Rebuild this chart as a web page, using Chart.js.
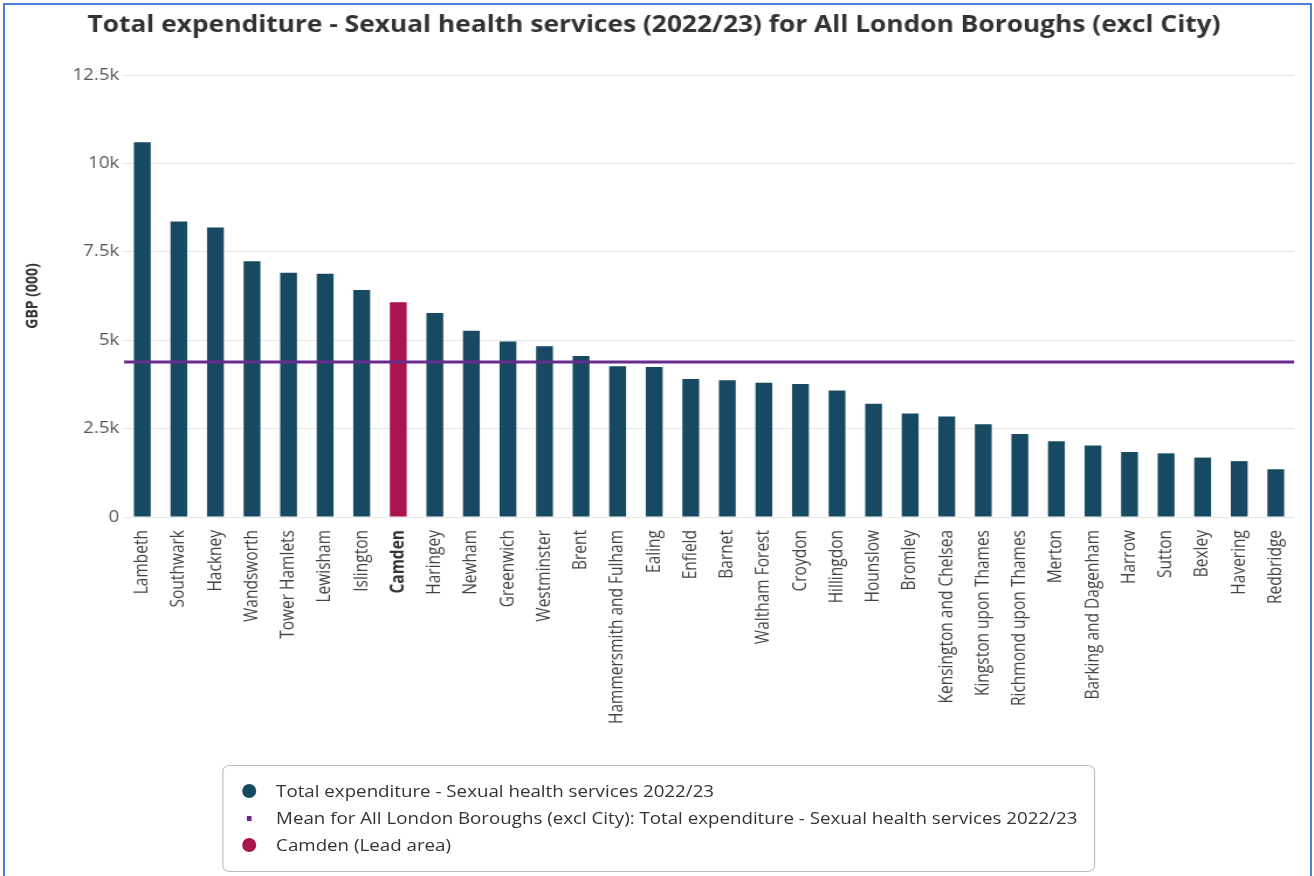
<!DOCTYPE html>
<html>
<head>
<meta charset="utf-8">
<title>Total expenditure - Sexual health services (2022/23)</title>
<script src="https://cdn.jsdelivr.net/npm/chart.js@4/dist/chart.umd.min.js"></script>
<style>
    body { margin: 0; background: #fff; font-family: 'Open Sans', sans-serif; overflow: hidden; }
    .frame { position: absolute; left: 3px; top: 3px; width: 1305px; height: 900px; border: 2px solid #4c7fd8; border-bottom: none; }
    /* the reference is a screenshot stretched sideways, so the drawing is widened the same way */
    .stretch { position: absolute; left: 0; top: 0; width: 1123px; height: 876px; transform: scaleX(1.17); transform-origin: 0 0; }
    #expenditure-chart { position: absolute; left: 4px; top: 5px; }
    #legend { position: absolute; left: 190px; top: 765px; width: 744px; height: 105px; border: 1px solid #bdbdbd; border-radius: 6px; background: #fff; }
    #legend ul { list-style: none; margin: 0; padding: 13px 0 0 0; }
    #legend li { position: relative; height: 27px; line-height: 24px; padding-left: 45px; font-size: 16px; color: #333; white-space: nowrap; }
    #legend .mark { position: absolute; top: 5px; left: 16px; width: 12px; height: 14px; border-radius: 50%; }
    #legend .mark.sq { top: 10px; left: 20px; width: 4px; height: 5px; border-radius: 0; }
</style>
</head>
<body>
<div class="frame"></div>
<div class="stretch">
    <canvas id="expenditure-chart" width="1110" height="755"></canvas>
    <div id="legend"><ul></ul></div>
</div>

<script>
// values, GBP (000)
const boroughs = [
    'Lambeth', 'Southwark', 'Hackney', 'Wandsworth', 'Tower Hamlets', 'Lewisham', 'Islington', 'Camden',
    'Haringey', 'Newham', 'Greenwich', 'Westminster', 'Brent', 'Hammersmith and Fulham', 'Ealing', 'Enfield',
    'Barnet', 'Waltham Forest', 'Croydon', 'Hillingdon', 'Hounslow', 'Bromley', 'Kensington and Chelsea',
    'Kingston upon Thames', 'Richmond upon Thames', 'Merton', 'Barking and Dagenham', 'Harrow', 'Sutton',
    'Bexley', 'Havering', 'Redbridge'
];
const expenditure = [
    10600, 8360, 8190, 7230, 6910, 6880, 6420, 6070,
    5770, 5270, 4960, 4830, 4550, 4260, 4240, 3900,
    3870, 3800, 3760, 3580, 3200, 2930, 2840,
    2620, 2350, 2140, 2020, 1840, 1800,
    1680, 1580, 1350
];
const londonMean = 4380;
const yTicks = [0, 2500, 5000, 7500, 10000, 12500];
const leadArea = 'Camden';

const seriesLabel = 'Total expenditure - Sexual health services 2022/23';
const meanLabel = 'Mean for All London Boroughs (excl City): Total expenditure - Sexual health services 2022/23';
const leadLabel = 'Camden (Lead area)';

const barColour = '#174a62';
const leadColour = '#a9144f';
const meanColour = '#6a2b8e';

Chart.defaults.font.family = "'Open Sans', sans-serif";
Chart.defaults.color = '#444';

new Chart(document.getElementById('expenditure-chart'), {
    type: 'bar',
    data: {
        labels: boroughs,
        datasets: [
            {
                type: 'line',
                label: meanLabel,
                data: [{ x: 0, y: londonMean }, { x: 1, y: londonMean }],
                xAxisID: 'xMean',
                borderColor: meanColour,
                borderWidth: 3,
                pointRadius: 0,
                order: 0
            },
            {
                label: seriesLabel,
                data: expenditure,
                backgroundColor: boroughs.map(b => b === leadArea ? leadColour : barColour),
                grouped: false,
                barPercentage: 0.46,
                categoryPercentage: 1,
                order: 1
            }
        ]
    },
    options: {
        responsive: false,
        animation: false,
        layout: { padding: 0 },
        plugins: {
            legend: { display: false },
            tooltip: { enabled: false },
            title: {
                display: true,
                text: 'Total expenditure - Sexual health services (2022/23) for All London Boroughs (excl City)',
                color: '#333',
                font: { size: 22.5, weight: 'bold' },
                padding: { top: 7, bottom: 36 }
            }
        },
        scales: {
            x: {
                grid: { display: false },
                border: { display: false },
                ticks: {
                    autoSkip: false,
                    minRotation: 90,
                    maxRotation: 90,
                    padding: 5,
                    color: ctx => boroughs[ctx.index] === leadArea ? '#333' : '#444',
                    font: ctx => ({ size: 15.5, weight: boroughs[ctx.index] === leadArea ? 'bold' : 'normal' })
                },
                afterFit: scale => { scale.height = 243; }
            },
            xMean: {
                type: 'linear',
                display: false,
                offset: false,
                min: 0,
                max: 1
            },
            y: {
                min: 0,
                max: 12500,
                afterBuildTicks: scale => { scale.ticks = yTicks.map(v => ({ value: v })); },
                grid: { color: '#e6e6e6', drawTicks: false },
                border: { display: false },
                ticks: {
                    padding: 4,
                    color: '#555',
                    font: { size: 16 },
                    callback: v => v === 0 ? '0' : (v / 1000) + 'k'
                },
                title: {
                    display: true,
                    text: 'GBP (000)',
                    color: '#333',
                    font: { size: 14, weight: 'bold' },
                    padding: { top: 16, bottom: 0 }
                },
                afterFit: scale => { scale.width = 102; }
            }
        }
    }
});

// legend as in the reference: boxed, one entry per row
const legendItems = [
    { text: seriesLabel, colour: barColour, square: false },
    { text: meanLabel, colour: meanColour, square: true },
    { text: leadLabel, colour: leadColour, square: false }
];
const ul = document.querySelector('#legend ul');
legendItems.forEach(item => {
    const li = document.createElement('li');
    const mark = document.createElement('span');
    mark.className = item.square ? 'mark sq' : 'mark';
    mark.style.background = item.colour;
    li.appendChild(mark);
    li.appendChild(document.createTextNode(item.text));
    ul.appendChild(li);
});
</script>
</body>
</html>
